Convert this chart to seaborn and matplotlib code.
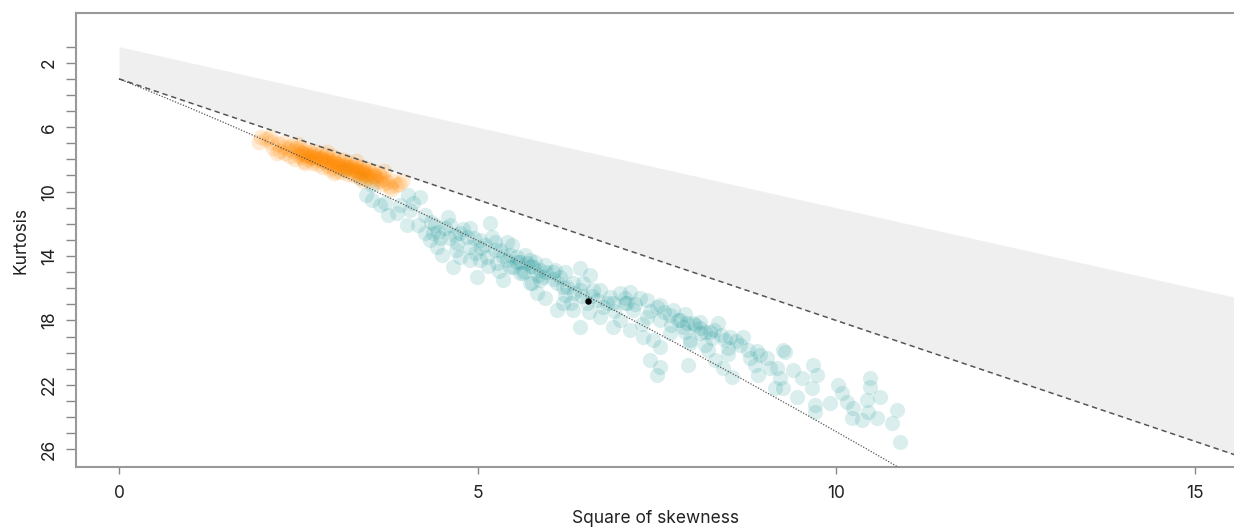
import numpy as np
import pandas as pd
import matplotlib
matplotlib.use("Agg")
import matplotlib.pyplot as plt
import seaborn as sns

# ---------------- data ----------------
# teal bootstrap cloud (square of skewness, kurtosis)
teal_x = [3.64, 3.71, 3.75, 3.88, 4.03, 4.10, 4.20, 4.02, 4.17, 4.27, 4.34, 4.48, 4.50, 4.59, 4.55,
          4.62, 4.66, 4.71, 4.76, 4.85, 4.90, 4.97, 4.99, 5.17, 5.20, 5.13, 5.27, 5.31, 5.41, 5.48,
          5.41, 5.50, 5.55, 5.63, 5.69, 5.76, 5.73, 5.36, 5.03, 4.90, 4.76, 4.44,
          5.66, 5.77, 5.87, 6.05, 6.43, 5.73, 5.83, 6.11, 6.19, 6.33, 6.47, 6.61, 6.11, 6.33, 6.43,
          6.71, 6.89, 6.85, 6.99, 7.09, 7.17, 6.99, 6.89, 7.13, 7.36, 7.50, 7.36, 7.55, 7.31, 7.68,
          7.73, 7.87, 7.96, 8.01, 7.45, 7.55, 6.75, 6.67, 5.91, 5.59, 6.19, 6.53,
          8.03, 7.89, 8.35, 8.17, 8.27, 8.52, 8.49, 8.21, 7.94, 7.96, 8.31, 8.42, 8.55, 8.77, 8.80,
          8.87, 8.91, 9.04, 9.08, 9.18, 9.22, 9.15, 9.26, 9.29, 9.40, 9.53, 9.46, 9.68, 9.74, 9.67,
          9.71, 9.71, 9.92, 10.03, 10.08, 10.15, 10.24, 10.22, 10.36, 10.43, 10.47, 10.47, 10.61,
          10.45, 10.57, 10.78, 10.85, 10.89,
          7.50, 7.55, 7.41, 7.92, 8.10, 9.26, 5.94, 3.15, 3.36, 3.53, 3.44, 3.53,
          5.59, 5.80, 5.94, 5.45, 6.08, 6.22, 6.57, 6.71, 7.13, 7.27, 7.06, 7.55, 7.68, 7.82, 8.10,
          8.24, 8.45, 8.66, 8.17, 8.94, 4.90, 5.03, 4.69, 4.27, 4.41, 3.92, 4.06, 5.24, 5.10, 5.87,
          6.22, 6.43,
          4.35, 4.45, 4.60, 4.70, 4.80, 4.95, 4.38,
          5.05, 5.15, 5.25, 5.35, 5.45, 5.55, 5.65, 5.75, 5.85, 5.95, 5.30,
          6.05, 6.15, 6.25, 6.35, 6.45, 6.60, 6.80, 6.90, 6.30, 6.55,
          7.05, 7.20, 7.40, 7.60, 7.80, 7.90, 7.30, 7.70,
          8.10, 8.30, 8.40, 8.60, 8.70, 8.90, 8.50]
teal_y = [10.83, 10.71, 11.45, 11.33, 10.21, 10.71, 10.33, 12.07, 12.07, 12.57, 13.01, 12.88, 13.94, 11.58, 12.26,
          12.07, 14.68, 13.19, 12.57, 12.82, 13.44, 13.82, 15.30, 11.95, 12.82, 14.06, 14.43, 13.63, 13.13, 13.32,
          14.25, 14.68, 14.06, 15.05, 14.43, 15.68, 14.25, 15.49, 14.25, 14.25, 14.06, 13.44,
          13.94, 14.68, 14.87, 15.00, 14.75, 15.68, 16.30, 15.68, 15.92, 15.68, 15.68, 16.11, 17.35, 17.35, 18.41,
          17.79, 16.92, 16.55, 16.30, 16.92, 17.35, 17.97, 18.41, 18.60, 16.73, 17.17, 17.79, 17.97, 19.03, 18.78,
          17.35, 18.41, 19.22, 18.16, 19.22, 19.65, 17.17, 16.73, 15.30, 15.05, 16.92, 16.92,
          18.29, 18.72, 18.16, 18.72, 19.09, 19.03, 19.71, 19.84, 20.77, 19.40, 20.46, 20.96, 21.52, 19.84, 20.34,
          20.77, 21.39, 20.34, 20.96, 20.96, 21.58, 22.20, 22.20, 19.96, 21.08, 21.58, 22.76, 20.77, 21.39, 22.20,
          23.69, 23.25, 23.13, 22.01, 22.51, 23.07, 23.44, 24.06, 24.19, 22.94, 21.58, 22.14, 22.76,
          23.69, 24.06, 24.37, 23.57, 25.55,
          21.39, 20.90, 20.46, 18.16, 18.79, 19.84, 16.62, 8.66, 9.15, 9.59, 10.21, 10.52,
          14.37, 14.37, 14.56, 13.94, 14.87, 15.00, 15.18, 16.11, 16.24, 16.61, 16.61, 17.04, 17.66, 17.97, 18.47,
          18.72, 19.22, 19.53, 19.53, 20.15, 12.26, 13.01, 12.70, 11.45, 12.07, 10.83, 11.14, 13.63, 13.32, 15.49,
          16.42, 16.11,
          11.90, 12.50, 12.90, 13.60, 12.30, 12.90, 12.60,
          13.50, 14.60, 13.10, 14.00, 14.70, 14.40, 14.90, 14.60, 15.20, 15.00, 14.90,
          15.40, 15.30, 15.90, 16.30, 16.50, 16.50, 16.90, 17.40, 16.90, 17.50,
          16.90, 17.00, 17.40, 17.50, 18.00, 17.60, 18.20, 18.30,
          18.10, 18.60, 18.90, 19.30, 19.00, 19.90, 20.10]

# orange bootstrap cloud
orange_x = [1.98, 2.05, 2.12, 2.15, 2.22, 2.25,
            2.30, 2.32, 2.35, 2.38, 2.40, 2.42, 2.45, 2.47, 2.50, 2.50,
            2.53, 2.55, 2.57, 2.58, 2.60, 2.62, 2.64, 2.66, 2.68, 2.70, 2.70,
            2.72, 2.74, 2.76, 2.78, 2.80, 2.82, 2.84, 2.85, 2.87, 2.88, 2.90,
            2.92, 2.94, 2.95, 2.97, 2.99, 3.00, 3.02, 3.04, 3.05, 3.07, 3.09, 3.10,
            3.12, 3.14, 3.15, 3.17, 3.19, 3.20, 3.22, 3.24, 3.25, 3.27, 3.29, 3.30,
            3.32, 3.34, 3.35, 3.37, 3.39, 3.40, 3.42, 3.44, 3.45, 3.47, 3.49, 3.50,
            3.52, 3.54, 3.56, 3.58, 3.60, 3.62, 3.64, 3.66, 3.68, 3.70,
            3.74, 3.78, 3.82, 3.86, 3.90,
            2.60, 2.75, 2.85, 2.95, 3.05, 3.15, 3.25, 3.35, 2.65, 2.80, 2.90, 3.00, 3.10, 3.20,
            3.30, 3.40, 2.55, 2.70, 3.45, 3.55,
            2.10, 2.30, 2.50, 2.90, 3.30, 3.70, 3.95, 2.20, 2.60, 3.00, 3.40, 3.80, 1.95]
orange_y = [6.62, 6.75, 6.95, 7.30, 7.05, 7.45,
            7.20, 7.60, 7.38, 7.80, 7.15, 7.50, 7.95, 7.32, 7.70, 7.45,
            7.25, 7.88, 7.60, 8.10, 7.40, 7.75, 8.00, 7.55, 7.85, 8.25, 7.65,
            7.45, 8.05, 7.80, 8.30, 7.62, 8.00, 8.45, 7.85, 8.15, 7.70, 8.35,
            7.95, 8.60, 8.20, 7.80, 8.45, 8.05, 8.70, 8.30, 7.95, 8.55, 8.15, 8.80,
            8.40, 8.05, 8.65, 8.30, 8.90, 8.50, 8.20, 8.75, 8.45, 9.00, 8.35, 8.65,
            8.90, 8.50, 9.10, 8.70, 8.45, 8.95, 8.65, 9.20, 8.85, 8.60, 9.05, 8.80,
            9.30, 8.95, 8.70, 9.15, 9.40, 8.90, 9.25, 9.05, 9.55, 9.20,
            9.40, 9.65, 9.35, 9.60, 9.55,
            7.70, 7.90, 8.05, 8.15, 8.35, 8.45, 8.60, 8.80, 7.80, 7.95, 8.10, 8.25, 8.40, 8.55,
            8.70, 8.85, 7.60, 7.85, 8.95, 9.05,
            6.60, 6.95, 7.05, 7.55, 8.10, 8.70, 9.35, 7.60, 8.25, 8.85, 9.35, 9.85, 6.90]

# observed value
obs_x = [6.54]
obs_y = [16.8]

# theoretical reference lines
beta_top_x = [0, 16]
beta_top_y = [1, 17]
gamma_x = [0, 16]
gamma_y = [3, 27]
lnorm_x = [0.0, 0.465, 0.961, 1.488, 2.048, 2.641, 3.267, 3.928, 4.624, 5.356, 6.125,
           6.931, 7.776, 8.660, 9.583, 10.547, 11.552]
lnorm_y = [3.0, 3.838, 4.756, 5.758, 6.850, 8.035, 9.320, 10.71, 12.21, 13.825, 15.5625,
           17.427, 19.426, 21.564, 23.848, 26.285, 28.88]

x_ticks = [0, 5, 10, 15]
y_major = [2, 6, 10, 14, 18, 22, 26]
y_minor = list(range(1, 27))

# ---------------- plot ----------------
sns.set_theme(style="white")
plt.rcParams['font.family'] = ['Inter', 'DejaVu Sans']

fig = plt.figure(figsize=(12.34, 5.30), dpi=100)
ax = fig.add_axes([76 / 1234, 1 - 467 / 530, 1 - 76 / 1234, (467 - 13) / 530])

# beta region
bx = np.array(beta_top_x, dtype=float)
ax.fill_between(bx, np.array(beta_top_y, float), np.array(gamma_y, float),
                color="#efefef", lw=0, zorder=0)

teal_df = pd.DataFrame({"s2": teal_x, "k": teal_y})
orange_df = pd.DataFrame({"s2": orange_x, "k": orange_y})

sns.scatterplot(data=teal_df, x="s2", y="k", ax=ax, color="#0a8f8f", alpha=0.15,
                s=120, linewidth=0, zorder=2, legend=False)
sns.scatterplot(data=orange_df, x="s2", y="k", ax=ax, color="#ff8a00", alpha=0.17,
                s=130, linewidth=0, zorder=3, legend=False)

ax.plot(gamma_x, gamma_y, color="#555555", lw=1.1, ls=(0, (3.5, 2.5)), zorder=4)
ax.plot(lnorm_x, lnorm_y, color="#555555", lw=0.9, ls=(0, (1, 1.3)), zorder=4)
sns.scatterplot(x=obs_x, y=obs_y, ax=ax, color="black", s=22, linewidth=0, zorder=5, legend=False)

ax.set_xlim(-0.6, 15.55)
ax.set_ylim(27.1, -1.09)

ax.set_xticks(x_ticks)
ax.set_xticklabels([str(t) for t in x_ticks], fontsize=12.5, color="#222222")
ax.set_yticks(y_minor, minor=True)
ax.set_yticks(y_major)
ax.set_yticklabels([str(t) for t in y_major], fontsize=12.5, color="#222222",
                   rotation=90, va="center")
ax.tick_params(axis="x", which="major", length=5, width=1, color="#888888", pad=8, bottom=True)
ax.tick_params(axis="y", which="both", length=7, width=1, color="#888888", pad=6, left=True)

ax.set_xlabel("Square of skewness", fontsize=12.5, color="#222222", labelpad=6)
ax.set_ylabel("Kurtosis", fontsize=12.5, color="#222222", labelpad=8)

for side in ["top", "left", "bottom"]:
    ax.spines[side].set_color("#999999")
    ax.spines[side].set_linewidth(1.5)
ax.spines["right"].set_visible(False)

fig.savefig("out.png", dpi=100)
